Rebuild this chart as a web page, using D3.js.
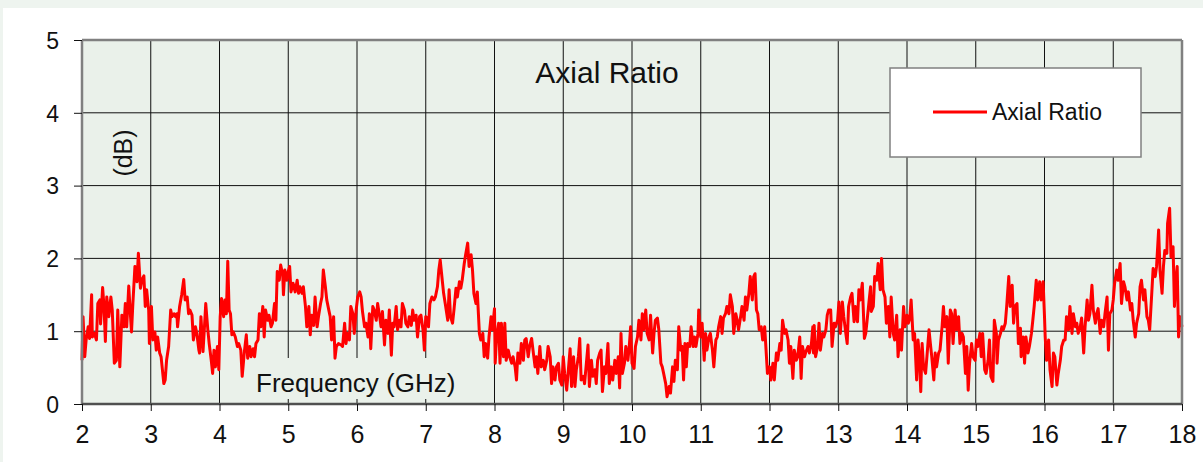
<!DOCTYPE html>
<html>
<head>
    <meta charset="utf-8">
    <title>Axial Ratio</title>
    <script src="https://d3js.org/d3.v7.min.js"></script>
    <style>
        body { margin: 0; background: #eef4ef; }
        text { font-family: "Liberation Sans", Arial, sans-serif; fill: #111; }
        .grid { stroke: #111; stroke-width: 1; }
        .frame { stroke: #808080; stroke-width: 2.5; fill: none; }
    </style>
</head>
<body>
    <div id="chart"></div>
    <script>
        // chart texts
        const chartTitle = "Axial Ratio";
        const seriesName = "Axial Ratio";
        const xTitle = "Frequency (GHz)";
        const yTitle = "(dB)";
        const xTicks = [2, 3, 4, 5, 6, 7, 8, 9, 10, 11, 12, 13, 14, 15, 16, 17, 18];
        const yTicks = [0, 1, 2, 3, 4, 5];

        const band2to4 = [[2.00,0.60],[2.015,1.20],[2.04,0.65],[2.06,0.88],[2.09,1.06],[2.11,0.90],[2.14,1.50],[2.15,0.92],[2.18,0.97],[2.21,0.88],[2.23,1.38],[2.26,1.43],[2.27,1.10],[2.30,1.60],[2.32,1.34],[2.34,0.86],[2.36,1.47],[2.39,1.20],[2.42,1.47],[2.44,1.29],[2.47,0.56],[2.50,0.60],[2.52,1.29],[2.55,0.51],[2.58,1.22],[2.61,1.06],[2.63,1.38],[2.65,1.06],[2.68,1.62],[2.70,1.29],[2.72,0.99],[2.74,1.38],[2.77,1.89],[2.80,1.68],[2.82,2.07],[2.85,1.59],[2.87,1.70],[2.90,1.76],[2.92,1.34],[2.94,1.57],[2.97,1.29],[2.98,0.83],[3.01,1.34],[3.03,0.88],[3.06,0.99],[3.08,0.74],[3.10,0.92],[3.13,0.70],[3.15,0.65],[3.19,0.28],[3.21,0.33],[3.23,0.60],[3.26,0.79],[3.29,1.29],[3.31,1.20],[3.34,1.24],[3.36,1.20],[3.38,1.24],[3.39,1.06],[3.42,1.34],[3.45,1.50],[3.48,1.71],[3.50,1.43],[3.53,1.47],[3.55,1.24],[3.57,1.29],[3.60,1.22],[3.62,0.88],[3.65,1.06],[3.67,0.97],[3.70,0.74],[3.71,0.70],[3.73,1.20],[3.76,0.72],[3.78,1.04],[3.80,1.38],[3.83,1.02],[3.85,0.83],[3.88,0.60],[3.90,0.42],[3.92,0.74],[3.94,0.51],[3.97,0.79],[3.99,0.47]];
        const band4to7 = [[4.01,1.20],[4.03,1.45],[4.06,1.20],[4.08,1.43],[4.10,1.24],[4.12,1.96],[4.14,1.29],[4.16,1.24],[4.18,0.95],[4.20,0.99],[4.23,0.92],[4.26,0.79],[4.28,0.83],[4.31,0.74],[4.33,0.38],[4.36,0.70],[4.39,0.95],[4.41,0.63],[4.44,0.79],[4.46,0.65],[4.49,0.76],[4.51,0.65],[4.53,0.83],[4.56,0.88],[4.58,1.24],[4.60,1.06],[4.63,1.34],[4.65,0.92],[4.67,1.29],[4.70,1.15],[4.72,1.22],[4.75,1.06],[4.77,1.11],[4.80,1.38],[4.82,1.15],[4.84,1.82],[4.87,1.70],[4.89,1.91],[4.92,1.77],[4.93,1.50],[4.95,1.84],[4.98,1.70],[5.00,1.82],[5.02,1.89],[5.04,1.54],[5.07,1.66],[5.10,1.54],[5.13,1.70],[5.15,1.52],[5.17,1.61],[5.20,1.52],[5.22,1.61],[5.25,1.34],[5.27,1.06],[5.30,1.34],[5.32,0.95],[5.34,1.22],[5.37,1.08],[5.39,1.47],[5.42,1.06],[5.44,1.20],[5.47,1.38],[5.49,1.47],[5.51,1.84],[5.54,1.61],[5.56,1.43],[5.59,1.29],[5.61,1.20],[5.63,0.88],[5.66,1.20],[5.68,0.63],[5.70,0.79],[5.73,0.83],[5.77,0.81],[5.79,0.79],[5.82,1.11],[5.84,0.83],[5.86,0.97],[5.89,0.88],[5.91,1.34],[5.94,1.24],[5.96,0.97],[5.99,1.31],[6.01,1.47],[6.04,1.54],[6.06,1.47],[6.08,1.27],[6.11,1.06],[6.13,1.11],[6.16,0.92],[6.18,1.24],[6.20,0.76],[6.23,1.34],[6.25,1.29],[6.28,1.15],[6.30,1.38],[6.33,1.20],[6.35,1.06],[6.37,1.27],[6.40,0.81],[6.42,1.15],[6.45,0.97],[6.47,1.29],[6.50,0.67],[6.52,1.11],[6.54,1.06],[6.57,1.34],[6.59,1.02],[6.62,1.15],[6.64,1.06],[6.66,1.38],[6.69,1.29],[6.71,1.11],[6.74,1.06],[6.76,1.20],[6.79,1.08],[6.81,1.29],[6.83,1.15],[6.86,1.22],[6.88,0.92],[6.91,1.20],[6.93,1.22],[6.96,1.02],[6.98,0.74]];
        const band7to10 = [[7.00,1.20],[7.02,1.18],[7.04,1.06],[7.06,1.38],[7.09,1.47],[7.12,1.43],[7.14,1.47],[7.17,1.61],[7.19,1.84],[7.21,1.98],[7.24,1.70],[7.26,1.52],[7.29,1.34],[7.32,1.15],[7.34,1.57],[7.36,1.20],[7.39,1.11],[7.41,1.29],[7.44,1.59],[7.46,1.47],[7.49,1.68],[7.51,1.59],[7.53,1.70],[7.56,1.93],[7.58,2.05],[7.61,2.21],[7.63,1.89],[7.66,2.05],[7.68,1.84],[7.70,1.52],[7.73,1.38],[7.75,1.54],[7.78,0.97],[7.80,0.88],[7.83,0.97],[7.85,0.65],[7.87,0.83],[7.90,0.63],[7.92,0.92],[7.95,1.20],[7.97,1.02],[8.00,1.31],[8.01,0.56],[8.03,0.92],[8.06,1.11],[8.08,0.56],[8.10,1.11],[8.13,0.65],[8.15,1.11],[8.17,0.60],[8.20,0.74],[8.22,0.65],[8.25,0.56],[8.27,0.65],[8.30,0.51],[8.32,0.33],[8.34,0.70],[8.37,0.56],[8.39,0.83],[8.42,0.60],[8.44,0.88],[8.46,0.90],[8.49,0.65],[8.51,0.79],[8.54,0.90],[8.56,0.74],[8.59,0.51],[8.61,0.65],[8.63,0.42],[8.66,0.79],[8.68,0.51],[8.71,0.60],[8.73,0.47],[8.76,0.60],[8.78,0.79],[8.81,0.65],[8.83,0.28],[8.85,0.51],[8.88,0.33],[8.90,0.51],[8.93,0.56],[8.95,0.33],[8.98,0.26],[9.00,0.65],[9.02,0.42],[9.05,0.19],[9.07,0.42],[9.10,0.76],[9.12,0.24],[9.15,0.65],[9.17,0.24],[9.19,0.47],[9.22,0.65],[9.24,0.90],[9.26,0.33],[9.29,0.38],[9.31,0.28],[9.34,0.60],[9.36,0.81],[9.38,0.24],[9.41,0.60],[9.43,0.38],[9.46,0.47],[9.48,0.28],[9.50,0.60],[9.53,0.70],[9.55,0.74],[9.57,0.17],[9.60,0.51],[9.62,0.42],[9.65,0.83],[9.67,0.28],[9.70,0.51],[9.72,0.33],[9.75,0.60],[9.77,0.42],[9.80,0.65],[9.82,0.22],[9.84,0.97],[9.86,0.42],[9.89,0.56],[9.91,0.79],[9.94,0.60],[9.96,0.79],[9.98,1.06]];
        const band10to13 = [[10.00,0.56],[10.03,0.49],[10.05,0.79],[10.08,0.92],[10.10,1.15],[10.13,0.88],[10.15,1.24],[10.17,1.02],[10.20,1.29],[10.22,0.97],[10.25,0.88],[10.27,1.22],[10.30,0.70],[10.32,0.97],[10.34,1.15],[10.37,1.18],[10.39,1.02],[10.42,0.56],[10.44,0.51],[10.46,0.42],[10.49,0.28],[10.51,0.10],[10.54,0.24],[10.56,0.15],[10.59,0.51],[10.61,0.31],[10.63,0.60],[10.66,0.47],[10.68,1.06],[10.71,0.74],[10.73,0.79],[10.75,0.33],[10.77,0.83],[10.79,0.51],[10.81,0.83],[10.84,0.79],[10.86,1.06],[10.89,0.79],[10.91,0.92],[10.93,0.79],[10.96,0.97],[10.97,1.29],[11.00,0.92],[11.02,1.11],[11.05,0.60],[11.07,0.97],[11.09,0.74],[11.12,0.92],[11.14,0.97],[11.17,0.74],[11.19,0.51],[11.22,0.88],[11.24,0.92],[11.26,1.06],[11.29,1.20],[11.31,0.97],[11.33,1.18],[11.36,1.24],[11.38,1.34],[11.41,1.24],[11.43,1.50],[11.46,1.34],[11.48,0.97],[11.51,1.24],[11.53,1.15],[11.55,1.02],[11.58,1.20],[11.60,1.34],[11.63,1.15],[11.65,1.47],[11.67,1.29],[11.70,1.52],[11.72,1.75],[11.75,1.43],[11.77,1.75],[11.79,1.79],[11.81,1.29],[11.83,1.24],[11.85,1.02],[11.88,1.06],[11.90,0.88],[11.93,1.06],[11.95,0.74],[11.97,0.42],[12.00,0.51],[12.02,0.33],[12.05,0.56],[12.07,0.33],[12.10,0.70],[12.12,0.60],[12.15,0.83],[12.17,0.74],[12.19,1.15],[12.22,0.97],[12.24,1.02],[12.27,0.88],[12.29,0.56],[12.31,0.79],[12.34,0.35],[12.36,0.74],[12.39,0.60],[12.41,0.65],[12.44,0.92],[12.46,0.35],[12.48,0.79],[12.51,0.65],[12.53,0.72],[12.56,0.79],[12.58,0.70],[12.61,0.83],[12.63,1.06],[12.64,0.70],[12.65,1.08],[12.67,0.65],[12.70,0.79],[12.72,1.11],[12.74,0.74],[12.77,0.97],[12.79,0.92],[12.82,1.02],[12.84,1.22],[12.86,1.29],[12.89,1.29],[12.91,0.79],[12.94,1.11],[12.96,1.06],[12.99,1.15]];
        const band13to16 = [[13.01,1.40],[13.03,0.97],[13.06,1.40],[13.08,1.20],[13.11,0.97],[13.13,0.83],[13.15,1.34],[13.18,1.47],[13.20,1.52],[13.23,1.13],[13.25,1.34],[13.28,1.13],[13.30,1.57],[13.32,1.43],[13.35,1.66],[13.38,0.90],[13.40,0.97],[13.42,1.15],[13.45,1.43],[13.47,1.61],[13.48,1.27],[13.51,1.34],[13.53,1.75],[13.56,1.70],[13.58,1.93],[13.61,1.57],[13.63,2.00],[13.65,1.57],[13.68,1.47],[13.70,1.11],[13.73,1.34],[13.75,0.92],[13.77,1.47],[13.80,0.97],[13.82,0.88],[13.85,1.22],[13.87,0.65],[13.90,1.02],[13.92,0.74],[13.95,1.34],[13.97,1.06],[14.00,1.22],[14.02,1.11],[14.04,1.18],[14.06,1.43],[14.09,0.88],[14.11,0.97],[14.14,0.33],[14.16,0.88],[14.18,0.65],[14.20,0.17],[14.22,0.83],[14.24,0.51],[14.27,0.42],[14.29,0.65],[14.32,1.02],[14.34,0.83],[14.36,0.65],[14.39,0.33],[14.41,0.70],[14.43,0.51],[14.46,0.70],[14.48,0.74],[14.51,1.06],[14.53,1.34],[14.55,1.06],[14.58,1.20],[14.60,0.56],[14.63,1.29],[14.65,1.24],[14.67,0.83],[14.70,1.29],[14.72,1.02],[14.75,1.20],[14.77,0.83],[14.80,0.97],[14.82,0.92],[14.85,0.42],[14.87,0.79],[14.89,0.19],[14.91,0.56],[14.94,0.83],[14.96,0.65],[14.99,0.60],[15.01,0.88],[15.03,0.79],[15.06,0.97],[15.08,0.65],[15.10,0.97],[15.13,0.47],[15.15,0.42],[15.18,0.60],[15.20,0.88],[15.22,0.38],[15.25,0.31],[15.27,1.15],[15.30,0.97],[15.31,0.56],[15.33,0.88],[15.36,0.97],[15.38,1.06],[15.40,1.02],[15.43,1.11],[15.45,1.34],[15.48,1.75],[15.50,1.34],[15.53,1.63],[15.55,1.11],[15.57,1.34],[15.60,1.38],[15.62,0.83],[15.65,1.04],[15.66,0.65],[15.69,0.92],[15.71,0.56],[15.73,0.92],[15.76,0.70],[15.78,0.79],[15.81,0.97],[15.83,1.15],[15.85,1.34],[15.88,1.70],[15.90,1.43],[15.93,1.68],[15.95,1.43],[15.98,1.68]];
        const band16to18 = [[16.00,1.20],[16.01,0.92],[16.03,0.60],[16.06,0.88],[16.08,0.47],[16.11,0.24],[16.13,0.70],[16.15,0.65],[16.18,0.26],[16.20,0.42],[16.23,0.60],[16.25,0.79],[16.28,0.88],[16.30,0.88],[16.32,1.20],[16.35,1.02],[16.37,1.34],[16.40,0.97],[16.42,1.24],[16.45,1.06],[16.47,1.11],[16.49,0.97],[16.52,1.06],[16.54,1.18],[16.57,0.70],[16.59,1.06],[16.62,1.43],[16.64,1.15],[16.66,1.24],[16.69,1.63],[16.71,1.29],[16.74,1.11],[16.76,1.24],[16.78,1.31],[16.81,0.97],[16.83,1.15],[16.86,1.06],[16.88,1.24],[16.91,1.47],[16.93,0.74],[16.95,1.24],[16.98,1.29],[17.00,1.43],[17.02,1.66],[17.05,1.84],[17.07,1.70],[17.10,1.93],[17.12,1.38],[17.15,1.68],[17.17,1.61],[17.20,1.43],[17.22,1.54],[17.25,1.29],[17.27,1.38],[17.29,1.15],[17.32,0.92],[17.34,1.11],[17.37,1.24],[17.39,1.61],[17.41,1.70],[17.44,1.43],[17.46,1.57],[17.49,1.20],[17.51,1.15],[17.53,1.02],[17.56,1.52],[17.58,1.86],[17.61,1.75],[17.63,1.89],[17.66,2.39],[17.68,1.84],[17.71,1.52],[17.73,1.89],[17.75,2.11],[17.78,2.07],[17.79,2.48],[17.82,2.69],[17.84,2.02],[17.87,2.16],[17.89,1.34],[17.91,1.70],[17.93,1.89],[17.95,0.92],[17.97,1.20],[18.00,1.06]];

        const axialRatio = [].concat(band2to4, band4to7, band7to10, band10to13, band13to16, band16to18);

        const width = 1203, height = 462;
        const plotBg = "#eaf1ea";

        const x = d3.scaleLinear().domain([2, 18]).range([82, 1182]);
        const y = d3.scaleLinear().domain([0, 5]).range([404, 40]);

        const svg = d3.select("#chart").append("svg")
            .attr("width", width)
            .attr("height", height)
            .style("display", "block");

        // white chart area inside the pale outer band
        svg.append("rect")
            .attr("x", 3).attr("y", 8)
            .attr("width", width - 3).attr("height", height - 8)
            .attr("fill", "#fff");

        // plot area
        svg.append("rect")
            .attr("x", x(2)).attr("y", y(5))
            .attr("width", x(18) - x(2)).attr("height", y(0) - y(5))
            .attr("fill", plotBg);

        // gridlines
        svg.append("g").selectAll("line")
            .data(xTicks.slice(1, -1))
            .join("line")
            .attr("class", "grid")
            .attr("x1", d => x(d)).attr("x2", d => x(d))
            .attr("y1", y(5)).attr("y2", y(0));

        svg.append("g").selectAll("line")
            .data(yTicks.slice(1, -1))
            .join("line")
            .attr("class", "grid")
            .attr("x1", x(2)).attr("x2", x(18))
            .attr("y1", d => y(d)).attr("y2", d => y(d));

        // axis titles sit inside the plot with a filled box
        svg.append("rect")
            .attr("x", 250).attr("y", 358)
            .attr("width", 208).attr("height", 41)
            .attr("fill", plotBg);
        svg.append("text")
            .attr("x", 256).attr("y", 392)
            .style("font-size", "26px")
            .text(xTitle);

        svg.append("rect")
            .attr("x", 104).attr("y", 120)
            .attr("width", 38).attr("height", 62)
            .attr("fill", plotBg);
        svg.append("text")
            .attr("transform", "translate(132,153) rotate(-90)")
            .attr("text-anchor", "middle")
            .style("font-size", "25px")
            .text(yTitle);

        // series
        const line = d3.line()
            .x(d => x(d[0]))
            .y(d => y(d[1]));

        svg.append("path")
            .datum(axialRatio)
            .attr("fill", "none")
            .attr("stroke", "#ff0000")
            .attr("stroke-width", 3)
            .attr("stroke-linejoin", "round")
            .attr("d", line);

        // frame
        svg.append("line").attr("class", "frame")
            .attr("x1", x(2)).attr("x2", x(18)).attr("y1", y(5)).attr("y2", y(5));
        svg.append("line").attr("class", "frame")
            .attr("x1", x(2)).attr("x2", x(2)).attr("y1", y(5)).attr("y2", y(0));
        svg.append("line").attr("class", "frame")
            .attr("x1", x(18)).attr("x2", x(18)).attr("y1", y(5)).attr("y2", y(0));
        svg.append("line")
            .attr("x1", x(2)).attr("x2", x(18)).attr("y1", y(0)).attr("y2", y(0))
            .attr("stroke", "#505050").attr("stroke-width", 2.5);

        // axes
        const yAxis = svg.append("g")
            .attr("transform", `translate(${x(2)},0)`)
            .call(d3.axisLeft(y).tickValues(yTicks).tickSize(8).tickPadding(15).tickFormat(d3.format("d")));
        yAxis.select(".domain").remove();
        yAxis.selectAll("line").attr("stroke", "#111");
        yAxis.selectAll("text").style("font-size", "23px").attr("dy", "0.36em");

        const xAxis = svg.append("g")
            .attr("transform", `translate(0,${y(0)})`)
            .call(d3.axisBottom(x).tickValues(xTicks).tickSize(7).tickPadding(14).tickFormat(d3.format("d")));
        xAxis.select(".domain").remove();
        xAxis.selectAll("line").attr("stroke", "#111");
        xAxis.selectAll("text").style("font-size", "25px");

        // title
        svg.append("text")
            .attr("x", 607).attr("y", 83)
            .attr("text-anchor", "middle")
            .style("font-size", "30px")
            .text(chartTitle);

        // legend
        const legend = svg.append("g");
        legend.append("rect")
            .attr("x", 890).attr("y", 68)
            .attr("width", 251).attr("height", 89)
            .attr("fill", "#fff")
            .attr("stroke", "#808080")
            .attr("stroke-width", 1.5);
        legend.append("line")
            .attr("x1", 933).attr("x2", 987)
            .attr("y1", 112).attr("y2", 112)
            .attr("stroke", "#ff0000").attr("stroke-width", 3);
        legend.append("text")
            .attr("x", 992).attr("y", 120)
            .style("font-size", "23px")
            .text(seriesName);
    </script>
</body>
</html>
